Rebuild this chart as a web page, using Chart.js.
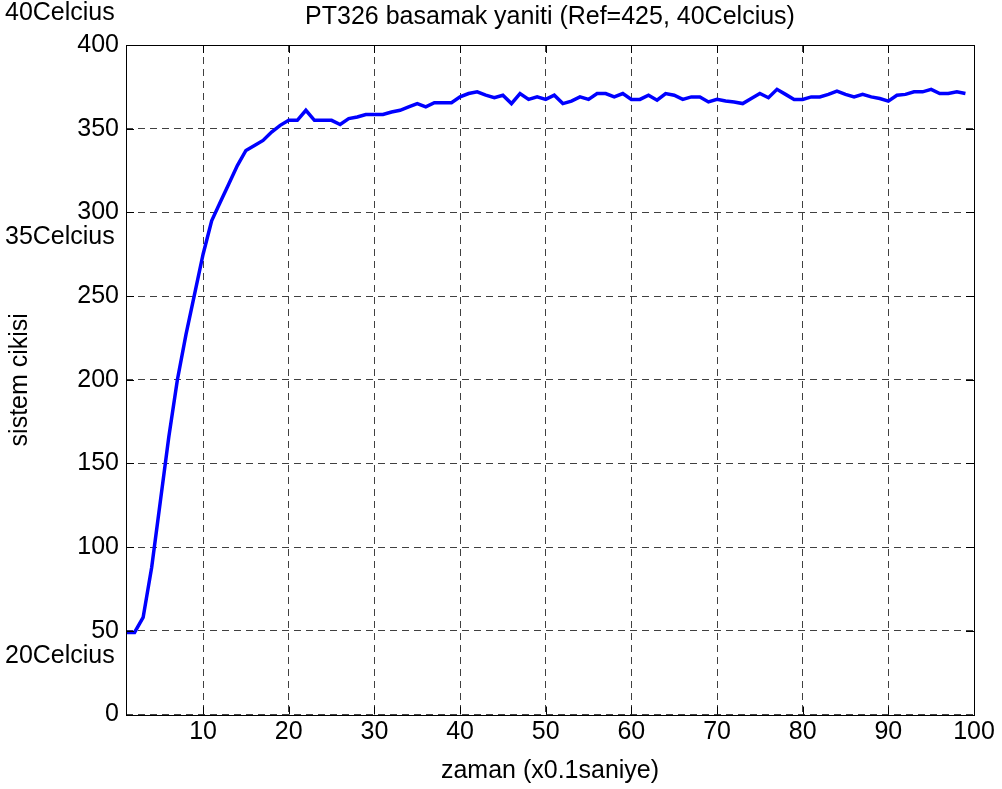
<!DOCTYPE html>
<html>
<head>
<meta charset="utf-8">
<title>PT326 basamak yaniti</title>
<script src="https://cdn.jsdelivr.net/npm/chart.js@4/dist/chart.umd.min.js"></script>
<style>
  html, body { margin: 0; padding: 0; background: #fff; }
  #wrap { width: 1002px; height: 789px; }
</style>
</head>
<body>
<div id="wrap"><canvas id="step-chart"></canvas></div>
<script>
// sample index (x0.1 s)
const samples = [
  1, 2, 3, 4, 5, 6, 7, 8, 9, 10, 11, 12, 13, 14, 15, 16, 17, 18, 19, 20,
  21, 22, 23, 24, 25, 26, 27, 28, 29, 30, 31, 32, 33, 34, 35, 36, 37, 38, 39, 40,
  41, 42, 43, 44, 45, 46, 47, 48, 49, 50, 51, 52, 53, 54, 55, 56, 57, 58, 59, 60,
  61, 62, 63, 64, 65, 66, 67, 68, 69, 70, 71, 72, 73, 74, 75, 76, 77, 78, 79, 80,
  81, 82, 83, 84, 85, 86, 87, 88, 89, 90, 91, 92, 93, 94, 95, 96, 97, 98, 99
];
// sistem cikisi
const output = [
  49, 49, 58, 88, 127, 166, 200, 227, 251, 275,
  295, 306, 317, 328, 337, 340, 343, 348, 352, 355,
  355, 361, 355, 355, 355, 352.5, 356, 357, 358.5, 358.5,
  358.5, 360, 361, 363, 365, 363, 365.5, 365.5, 365.5, 369,
  371, 372, 370, 368.5, 370, 365, 371, 367.5, 369, 367.5,
  370, 365, 366.5, 369, 367.5, 371, 371, 369, 371, 367.5,
  367.5, 370, 367, 371, 370, 367.5, 369, 369, 366, 367.5,
  366.5, 366, 365, 368, 371, 368.5, 373.5, 370.5, 367.5, 367.5,
  369, 369, 370.5, 372.5, 370.5, 369, 370.5, 369, 368, 366.5,
  370, 370.5, 372, 372, 373.5, 371, 371, 372, 371
];
const xTicks = [10, 20, 30, 40, 50, 60, 70, 80, 90, 100];
const yTicks = [0, 50, 100, 150, 200, 250, 300, 350, 400];

// text labels placed next to the y axis
const noteLabels = ['40Celcius', '35Celcius', '20Celcius'];
const noteValues = [419, 285, 35];

const FONT = 'Arial, "Liberation Sans", Helvetica, sans-serif';
const FSIZE = 25;

// inward ticks, box and the Celcius notes (MATLAB style)
const frameBox = {
  id: 'frameBox',
  afterDraw(chart) {
    const ctx = chart.ctx;
    const a = chart.chartArea;
    const xs = chart.scales.x, ys = chart.scales.y;
    const len = 8;
    ctx.save();
    ctx.strokeStyle = '#000';
    ctx.lineWidth = 1;
    ctx.beginPath();
    xTicks.forEach(v => {
      const px = Math.round(xs.getPixelForValue(v)) + 0.5;
      ctx.moveTo(px, a.bottom); ctx.lineTo(px, a.bottom - len);
      ctx.moveTo(px, a.top); ctx.lineTo(px, a.top + len);
    });
    yTicks.forEach(v => {
      const py = Math.round(ys.getPixelForValue(v)) + 0.5;
      ctx.moveTo(a.left, py); ctx.lineTo(a.left + len, py);
      ctx.moveTo(a.right, py); ctx.lineTo(a.right - len, py);
    });
    ctx.stroke();
    ctx.strokeRect(Math.round(a.left) + 0.5, Math.round(a.top) + 0.5,
                   Math.round(a.right - a.left), Math.round(a.bottom - a.top));

    ctx.fillStyle = '#000';
    ctx.font = FSIZE + 'px ' + FONT;
    ctx.textAlign = 'left';
    ctx.textBaseline = 'middle';
    noteLabels.forEach((t, i) => {
      ctx.fillText(t, 5, ys.getPixelForValue(noteValues[i]));
    });
    ctx.restore();
  }
};

const ctx = document.getElementById('step-chart').getContext('2d');
const chart = new Chart(ctx, {
  type: 'line',
  data: {
    datasets: [{
      data: samples.map((s, i) => ({ x: s, y: output[i] })),
      borderColor: '#0000ff',
      borderWidth: 3.5,
      pointRadius: 0,
      tension: 0,
      fill: false
    }]
  },
  options: {
    responsive: true,
    maintainAspectRatio: false,
    animation: false,
    layout: { padding: { left: 0, right: 28, top: 0, bottom: 0 } },
    plugins: {
      legend: { display: false },
      tooltip: { enabled: false },
      title: {
        display: true,
        fullSize: false,
        text: 'PT326 basamak yaniti (Ref=425, 40Celcius)',
        color: '#000',
        font: { family: FONT, size: FSIZE, weight: 'normal', lineHeight: 1.2 },
        padding: { top: 2, bottom: 13 }
      }
    },
    scales: {
      x: {
        type: 'linear',
        min: 1,
        max: 100,
        afterBuildTicks: scale => { scale.ticks = xTicks.map(v => ({ value: v })); },
        afterFit: scale => { scale.height = 74.5; },
        grid: {
          color: 'rgba(0,0,0,0.75)',
          lineWidth: 1,
          drawTicks: false
        },
        border: { display: false, dash: [7, 5] },
        ticks: {
          color: '#000',
          padding: 3,
          maxRotation: 0,
          autoSkip: false,
          font: { family: FONT, size: FSIZE }
        },
        title: {
          display: true,
          text: 'zaman (x0.1saniye)',
          color: '#000',
          font: { family: FONT, size: FSIZE, lineHeight: 1.2 },
          padding: { top: 0, bottom: 3 }
        }
      },
      y: {
        type: 'linear',
        min: 0,
        max: 400,
        afterBuildTicks: scale => { scale.ticks = yTicks.map(v => ({ value: v })); },
        afterFit: scale => { scale.width = 126; },
        grid: {
          color: 'rgba(0,0,0,0.75)',
          lineWidth: 1,
          drawTicks: false
        },
        border: { display: false, dash: [7, 5] },
        ticks: {
          color: '#000',
          padding: 7,
          autoSkip: false,
          font: { family: FONT, size: FSIZE }
        },
        title: {
          display: true,
          text: 'sistem cikisi',
          color: '#000',
          font: { family: FONT, size: FSIZE, lineHeight: 1.2 },
          padding: { top: 5, bottom: 0 }
        }
      }
    }
  },
  plugins: [frameBox]
});
</script>
</body>
</html>
